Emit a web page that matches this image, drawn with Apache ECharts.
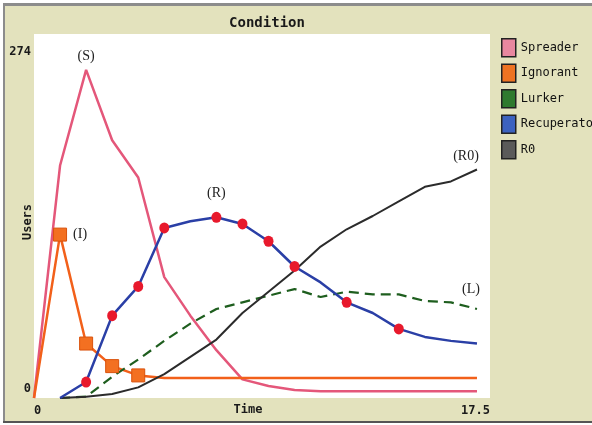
<!DOCTYPE html>
<html>
<head>
<meta charset="utf-8">
<script src="https://cdn.jsdelivr.net/npm/echarts@6/dist/echarts.min.js"></script>
<style>html,body{margin:0;padding:0;background:#fff}#chart{width:592px;height:425px}</style>
</head>
<body>
<div id="chart"></div>
<script>
// ---- data ----
var time = [0,1,2,3,4,5,6,7,8,9,10,11,12,13,14,15,16,17];
var spreader    = [0,175,247,194,166,91,62,36,14,9,6,5,5,5,5,5,5,5];
var ignorant    = [0,123,41,24,17,15,15,15,15,15,15,15,15,15,15,15,15,15];
var lurker      = [null,0,1,16,29,43,56,67,72,77,82,76,80,78,78,73,72,67];
var recuperator = [null,0,12,62,84,128,133,136,131,118,99,87,72,64,52,46,43,41];
var r0          = [null,0,1,3,8,18,31,44,64,80,96,114,127,137,148,159,163,172];
var ignorantMarks = [1,2,3,4];
var recuperatorMarks = [2,3,4,5,7,8,9,10,12,14];
var seriesNames = ['Spreader','Ignorant','Lurker','Recuperator','R0'];
var xTicks = [0, 17.5];
var yTicks = [0, 274];
var tags = { Spreader:[2,'(S)'], Ignorant:[1,'(I)'], Recuperator:[7,'(R)'], R0:[17,'(R0)'], Lurker:[17,'(L)'] };

var mono = "'DejaVu Sans Mono', monospace";
var serif = "'Liberation Serif', 'DejaVu Serif', serif";

var labelPos = {
  Spreader:   {position:'top', distance:7},
  Ignorant:   {position:'right', distance:6},
  Recuperator:{position:'top', distance:12},
  R0:         {position:'top', distance:6, offset:[-11,0]},
  Lurker:     {position:'top', distance:13, offset:[-6,0]}
};

function build(name, values) {
  var out = [];
  for (var i = 0; i < time.length; i++) {
    if (values[i] == null) continue;
    var item = { value: [time[i], values[i]] };
    if (tags[name] && tags[name][0] === time[i]) {
      var lp = labelPos[name];
      item.label = Object.assign({ show: true, formatter: tags[name][1], fontFamily: serif, fontSize: 14, color: '#222' }, lp);
    }
    out.push(item);
  }
  return out;
}

var chart = echarts.init(document.getElementById('chart'), null, {renderer:'canvas'});
chart.setOption({
  animation: false,
  backgroundColor: '#e3e2bd',
  graphic: [
    {type:'rect', shape:{x:0,y:0,width:592,height:3}, style:{fill:'#fff'}, silent:true},
    {type:'rect', shape:{x:0,y:0,width:3,height:425}, style:{fill:'#fff'}, silent:true},
    {type:'rect', shape:{x:3,y:3,width:589,height:3}, style:{fill:'#8c8c8c'}, silent:true},
    {type:'rect', shape:{x:3,y:3,width:2,height:420}, style:{fill:'#8c8c8c'}, silent:true},
    {type:'rect', shape:{x:3,y:421,width:589,height:2}, style:{fill:'#555'}, silent:true},
    {type:'rect', shape:{x:0,y:423,width:592,height:2}, style:{fill:'#fff'}, silent:true}
  ],
  title: {
    text: 'Condition', left: 262, top: 11, textAlign: 'center',
    textStyle: { fontFamily: mono, fontSize: 14, fontWeight: 'bold', color: '#1a1a1a' }
  },
  legend: {
    orient: 'vertical', left: 496, top: 33, itemWidth: 14, itemHeight: 18, itemGap: 6,
    icon: 'rect',
    itemStyle: { borderColor: '#222', borderWidth: 1.5 },
    textStyle: { fontFamily: mono, fontSize: 12, color: '#111' },
    data: [
      {name:'Spreader', itemStyle:{color:'#e8879f'}},
      {name:'Ignorant', itemStyle:{color:'#ee7322'}},
      {name:'Lurker', itemStyle:{color:'#2f7a2f'}},
      {name:'Recuperator', itemStyle:{color:'#3c62bf'}},
      {name:'R0', itemStyle:{color:'#5a5a5a'}}
    ]
  },
  grid: { left: 34, top: 34, width: 456, height: 364, show: true, backgroundColor: '#fff', borderWidth: 0,
          containLabel: false, outerBoundsMode: 'none' },
  xAxis: {
    type: 'value', min: xTicks[0], max: xTicks[1], interval: xTicks[1] - xTicks[0],
    name: 'Time', nameLocation: 'middle', nameGap: 6, nameMoveOverlap: false,
    nameTextStyle: { fontFamily: mono, fontSize: 12, fontWeight: 'bold', color: '#1a1a1a', verticalAlign: 'top', padding: [0, 28, 0, 0] },
    axisLine: {show:false}, axisTick: {show:false}, splitLine: {show:false},
    axisLabel: { fontFamily: mono, fontSize: 12, fontWeight: 'bold', color: '#1a1a1a', margin: 7, alignMinLabel: 'left', alignMaxLabel: 'right' }
  },
  yAxis: {
    type: 'value', min: yTicks[0], max: yTicks[1], interval: yTicks[1] - yTicks[0],
    name: 'Users', nameLocation: 'middle', nameGap: 0, nameRotate: 90, nameMoveOverlap: false,
    nameTextStyle: { fontFamily: mono, fontSize: 12, fontWeight: 'bold', color: '#1a1a1a', padding: [0, 12, 0, 0] },
    axisLine: {show:false}, axisTick: {show:false}, splitLine: {show:false},
    axisLabel: {
      margin: 3,
      formatter: function (v) { return v === yTicks[1] ? '{t|' + v + '}' : '{b|' + v + '}'; },
      rich: {
        t: { fontFamily: mono, fontSize: 12, fontWeight: 'bold', color: '#1a1a1a', padding: [36, 0, 0, 0] },
        b: { fontFamily: mono, fontSize: 12, fontWeight: 'bold', color: '#1a1a1a', padding: [0, 0, 18, 0] }
      }
    }
  },
  series: [
    { name:'Spreader', type:'line', data: build('Spreader', spreader), symbol:'circle', symbolSize:0,
      itemStyle:{color:'#e4577a'}, lineStyle:{color:'#e4577a', width:2.5} },
    { name:'Ignorant', type:'line', data: build('Ignorant', ignorant), symbol:'rect',
      symbolSize: function (v) { return ignorantMarks.indexOf(v[0]) >= 0 ? 13 : 0; },
      itemStyle:{color:'#f37021', borderColor:'#d9520c', borderWidth:1}, lineStyle:{color:'#f2601a', width:2.5} },
    { name:'Lurker', type:'line', data: build('Lurker', lurker), symbol:'circle', symbolSize:0,
      itemStyle:{color:'#1e5e1e'}, lineStyle:{color:'#1e5e1e', width:2.2, type:[10,6]} },
    { name:'R0', type:'line', data: build('R0', r0), symbol:'circle', symbolSize:0,
      itemStyle:{color:'#2b2b2b'}, lineStyle:{color:'#2b2b2b', width:2} },
    { name:'Recuperator', type:'line', data: build('Recuperator', recuperator), symbol:'circle',
      symbolSize: function (v) { return recuperatorMarks.indexOf(v[0]) >= 0 ? [10, 11] : 0; },
      itemStyle:{color:'#e8192c', borderWidth:0}, lineStyle:{color:'#2a3fa6', width:2.5} }
  ]
});
</script>
</body>
</html>
